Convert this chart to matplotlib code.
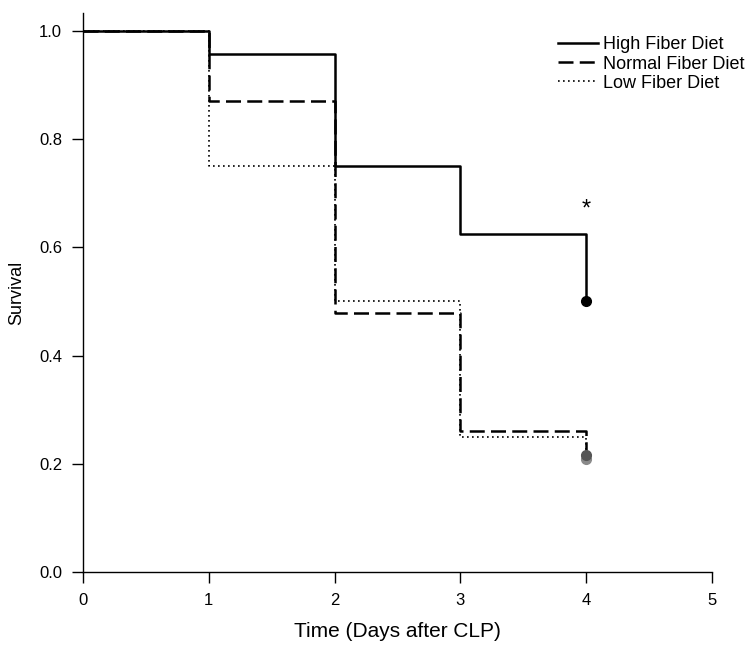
import matplotlib
matplotlib.use("Agg")
import matplotlib.pyplot as plt

plt.rcParams['font.family'] = ['Liberation Sans', 'DejaVu Sans']

days = [0, 1, 2, 3, 4]
high_fiber = [1.0, 0.958, 0.75, 0.625, 0.5]
normal_fiber = [1.0, 0.870, 0.478, 0.261, 0.217]
low_fiber = [1.0, 0.75, 0.50, 0.25, 0.208]
labels = ["High Fiber Diet", "Normal Fiber Diet", "Low Fiber Diet"]
x_ticks = [0, 1, 2, 3, 4, 5]
y_ticks = [0.0, 0.2, 0.4, 0.6, 0.8, 1.0]
star_pos = (4, 0.670)

fig = plt.figure(figsize=(7.55, 6.46), dpi=100)
ax = fig.add_axes([0.110, 0.1146, 0.833, 0.8653])

ax.step(days, high_fiber, where='post', color='black', lw=1.8, ls='-', label=labels[0])
ax.step(days, normal_fiber, where='post', color='black', lw=1.8, ls=(0, (6, 2.5)), label=labels[1])
ax.step(days, low_fiber, where='post', color='black', lw=1.2, ls=(0, (1, 2)), label=labels[2])

ax.plot(days[-1], low_fiber[-1], 'o', color='#8a8a8a', ms=7, zorder=5)
ax.plot(days[-1], normal_fiber[-1], 'o', color='#555555', ms=7, zorder=6)
ax.plot(days[-1], high_fiber[-1], 'o', color='black', ms=7, zorder=7)

ax.text(star_pos[0], star_pos[1], "*", ha='center', va='center', fontsize=17)

ax.set_xlim(0, 5)
ax.set_ylim(0, 1.033)
ax.set_xticks(x_ticks)
ax.set_yticks(y_ticks)
ax.set_yticklabels([f"{v:.1f}" for v in y_ticks])
ax.tick_params(direction='out', length=8, width=1, labelsize=12, pad=7)
for s in ['top', 'right']:
    ax.spines[s].set_visible(False)
for s in ['left', 'bottom']:
    ax.spines[s].set_linewidth(1)

ax.set_xlabel("Time (Days after CLP)", fontsize=15, labelpad=10)
ax.set_ylabel("Survival", fontsize=13, labelpad=10)

ax.legend(loc='upper left', bbox_to_anchor=(0.755, 0.958), frameon=False, fontsize=13,
          handlelength=2.2, handletextpad=0.3, labelspacing=0.12, borderaxespad=0,
          borderpad=0)

fig.savefig("out.png", dpi=100)
